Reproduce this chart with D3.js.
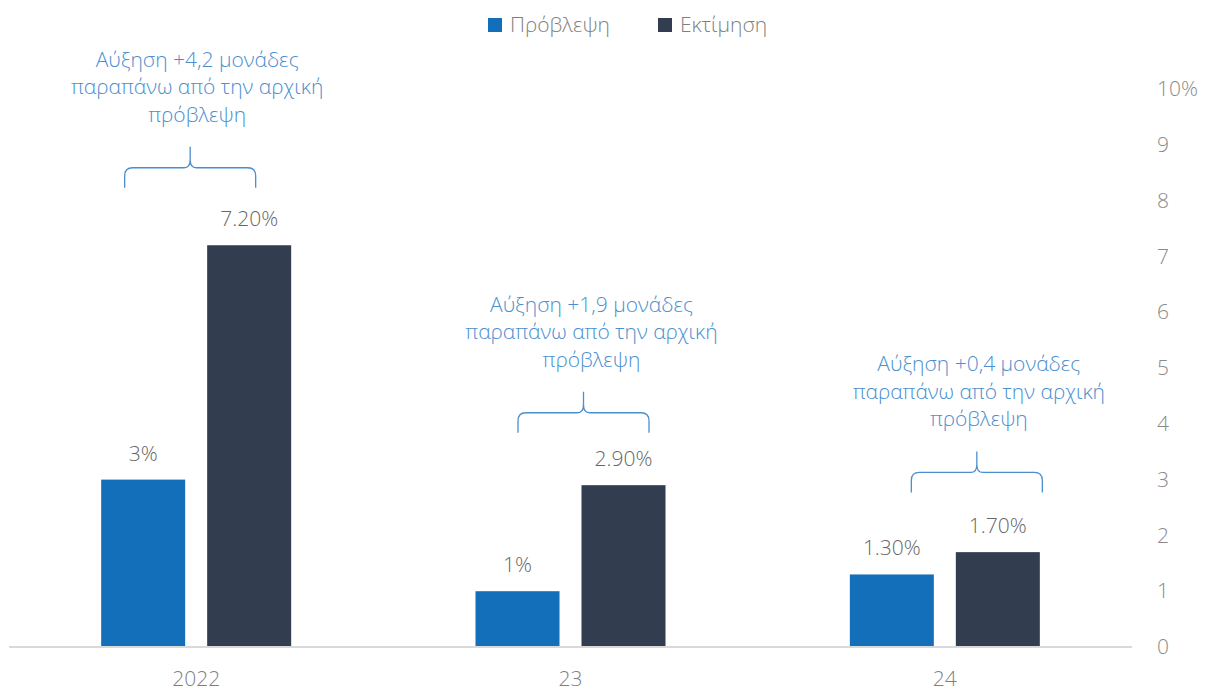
<!DOCTYPE html>
<html><head><meta charset="utf-8">
<script src="https://cdn.jsdelivr.net/npm/d3@7"></script>
<style>
body{margin:0;background:#fff;}
svg{display:block;font-family:"Open Sans","Noto Sans",sans-serif;}
</style></head>
<body><svg id="chart" width="1209" height="691"></svg>
<script>
const categories = ["2022", "23", "24"];
const seriesNames = ["Πρόβλεψη", "Εκτίμηση"];
const forecast = [3, 1, 1.3];
const estimate = [7.2, 2.9, 1.7];
const forecastLabels = ["3%", "1%", "1.30%"];
const estimateLabels = ["7.20%", "2.90%", "1.70%"];
const yTicks = [0,1,2,3,4,5,6,7,8,9,10];
const annotationLines = [
  ["Αύξηση +4,2 μονάδες", "παραπάνω από την αρχική", "πρόβλεψη"],
  ["Αύξηση +1,9 μονάδες", "παραπάνω από την αρχική", "πρόβλεψη"],
  ["Αύξηση +0,4 μονάδες", "παραπάνω από την αρχική", "πρόβλεψη"]
];
const braceLevel = [8.23, 3.84, 2.77];
const braceShift = [-6, 13, 32];
const textShift = [1, 21, 34];

const colors = ["#136fba", "#323e4f"];
const annColor = "#4a8fd0";
const FS = 21;
const svg = d3.select("#chart");

const x0 = d3.scaleBand().domain(categories).range([9, 1132]).padding(0);
const x1 = d3.scaleBand().domain(seriesNames).range([-95, 95]).paddingInner(0.2075);
const y = d3.scaleLinear().domain([0, 10]).range([647, 89]);

const data = categories.map((c, i) => ({cat: c, vals: [
  {s: seriesNames[0], v: forecast[i], l: forecastLabels[i]},
  {s: seriesNames[1], v: estimate[i], l: estimateLabels[i]}
]}));

// bars
const g = svg.append("g").selectAll("g").data(data).join("g")
  .attr("transform", d => `translate(${x0(d.cat) + x0.bandwidth()/2},0)`);
g.selectAll("rect").data(d => d.vals).join("rect")
  .attr("x", d => x1(d.s)).attr("width", x1.bandwidth())
  .attr("y", d => y(d.v)).attr("height", d => y(0) - y(d.v))
  .attr("fill", (d, i) => colors[i]);
g.selectAll("text.val").data(d => d.vals).join("text").attr("class", "val")
  .attr("x", d => x1(d.s) + x1.bandwidth()/2).attr("y", d => y(d.v) - 19)
  .attr("text-anchor", "middle").attr("font-size", FS).attr("fill", "#666666")
  .attr("font-weight", 300)
  .text(d => d.l);

// baseline
svg.append("line").attr("x1", 9).attr("x2", 1132).attr("y1", y(0)).attr("y2", y(0))
  .attr("stroke", "#d9d9d9").attr("stroke-width", 2);

// x axis labels
svg.append("g").selectAll("text").data(categories).join("text")
  .attr("x", d => x0(d) + x0.bandwidth()/2).attr("y", 686)
  .attr("text-anchor", "middle").attr("font-size", FS).attr("fill", "#7f7f7f").attr("font-weight", 300)
  .text(d => d);

// y axis labels (right)
const yAxis = d3.axisRight(y).tickValues(yTicks).tickSize(0).tickPadding(0)
  .tickFormat(d => d === 10 ? "10%" : d);
const ya = svg.append("g").attr("transform", "translate(1157,0)").call(yAxis);
ya.select(".domain").remove();
ya.selectAll("text").attr("font-size", FS).attr("fill", "#8a8a8a").attr("font-weight", 300)
  .attr("font-family", "'Open Sans','Noto Sans',sans-serif");

// annotations: braces + text
categories.forEach((c, i) => {
  const cx = x0(c) + x0.bandwidth()/2 + braceShift[i];
  const yb = y(braceLevel[i]);
  const hw = 65.5, r = 8;
  const yh = yb - 20, yt = yb - 41;
  const p = d3.path();
  p.moveTo(cx - hw, yb);
  p.lineTo(cx - hw, yh + r);
  p.quadraticCurveTo(cx - hw, yh, cx - hw + r, yh);
  p.lineTo(cx - 6, yh);
  p.quadraticCurveTo(cx, yh, cx, yh - 8);
  p.lineTo(cx, yt);
  p.moveTo(cx, yh - 8);
  p.quadraticCurveTo(cx, yh, cx + 6, yh);
  p.lineTo(cx + hw - r, yh);
  p.quadraticCurveTo(cx + hw, yh, cx + hw, yh + r);
  p.lineTo(cx + hw, yb);
  svg.append("path").attr("d", p.toString()).attr("fill", "none")
    .attr("stroke", annColor).attr("stroke-width", 1.3);
  const tx = x0(c) + x0.bandwidth()/2 + textShift[i];
  const t = svg.append("text").attr("text-anchor", "middle").attr("font-size", FS)
    .attr("fill", annColor).attr("font-weight", 300);
  annotationLines[i].forEach((ln, k) => {
    t.append("tspan").attr("x", tx).attr("y", yt - 25 - (annotationLines[i].length - 1 - k) * 27.5).text(ln);
  });
});

// legend
const lg = svg.append("g");
const legX = [488, 658];
seriesNames.forEach((s, i) => {
  lg.append("rect").attr("x", legX[i]).attr("y", 18).attr("width", 14).attr("height", 14).attr("fill", colors[i]);
  lg.append("text").attr("x", legX[i] + 22).attr("y", 32).attr("font-size", FS)
    .attr("fill", "#7f7f7f").attr("font-weight", 300).text(s);
});
</script></body></html>
